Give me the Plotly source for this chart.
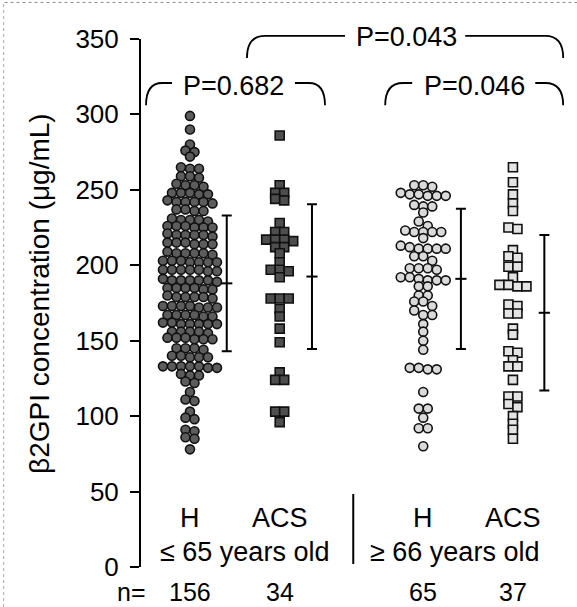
import numpy as np
import plotly.graph_objects as go

# ---------------- data ----------------
groups = ["H", "ACS", "H", "ACS"]
age_labels = ["\u2264 65 years old", "\u2265 66 years old"]
n_labels = ["156", "34", "65", "37"]
p_labels = ["P=0.682", "P=0.046", "P=0.043"]

h_young = [299, 290, 280, 276, 275, 272, 265, 264, 264, 259, 258, 259,
           254, 253, 253, 252, 248, 247, 248, 247, 248,
           242, 242, 243, 241, 242, 242, 237, 236, 237, 236,
           230, 230, 229, 230, 231, 226, 225, 226, 225, 226, 225,
           220, 220, 221, 220, 219, 220, 215, 214, 215, 214, 215, 214,
           208, 208, 207, 208, 209, 208, 203, 202, 202, 203, 202, 202, 203,
           197, 197, 196, 197, 197, 196, 197,
           190, 190, 191, 190, 189, 190, 190, 185, 185, 184, 185, 185, 184,
           179, 179, 180, 179, 179, 178, 173, 172, 173, 172, 173, 172, 173,
           167, 167, 166, 167, 167, 166, 161, 162, 161, 161, 162, 161, 161,
           156, 156, 155, 156, 156, 152, 151, 152, 151, 152, 151,
           145, 145, 144, 145, 139, 140, 139, 139, 140,
           133, 133, 132, 133, 133, 132, 133, 127, 128, 127, 123, 122,
           116, 111, 110, 103, 99, 98, 91, 90, 86, 85, 78]
acs_young = [286, 253, 248, 248, 244, 243, 228, 222, 222, 217, 217, 216, 217,
             212, 212, 208, 202, 197, 197, 196, 192, 178, 178, 178, 171, 166,
             158, 149, 129, 124, 124, 103, 103, 96]
h_old = [253, 252, 253, 247, 246, 247, 246, 248, 246, 239, 240, 239, 235, 229,
         226, 222, 222, 223, 222, 222, 218, 213, 211, 211, 212, 211, 211,
         206, 206, 203, 198, 198, 198, 197, 192, 192, 190, 190, 190, 191,
         186, 186, 180, 180, 176, 176, 173, 170, 167, 167, 161, 156, 150, 144,
         132, 131, 132, 131, 116, 105, 105, 99, 92, 92, 80]
acs_old = [265, 255, 247, 241, 236, 225, 224, 210, 206, 205, 199, 199, 192,
           187, 187, 186, 186, 174, 173, 168, 168, 158, 154, 143, 142, 137,
           133, 133, 124, 113, 113, 108, 106, 100, 95, 91, 85]

means = [188, 192.5, 191, 168.5]
sds = [45, 48, 46.5, 51.5]

# ---------------- layout constants ----------------
W, H = 577, 607
ML = 140
X_POS = [1.0, 2.0, 3.6, 4.6]
XR = [0.443, 5.314]
YR = [-26.5, 375.8]
XPX = (W - ML) / (XR[1] - XR[0])
YPX = H / (YR[1] - YR[0])
ERR_OFF = [0.41, 0.36, 0.42, 0.35]
FONT = "Liberation Sans, Arial, sans-serif"


def row_offsets(vals, spacing_px=9.0, tol=3.5):
    """GraphPad-like scatter: values that are close share a centred row."""
    vals = np.asarray(vals, float)
    order = np.argsort(-vals, kind="stable")
    offs = np.zeros(len(vals))
    rows, cur, start = [], [], None
    for i in order:
        if cur and start - vals[i] > tol:
            rows.append(cur)
            cur = []
        if not cur:
            start = vals[i]
        cur.append(i)
    if cur:
        rows.append(cur)
    for r in rows:
        n = len(r)
        for j, i in enumerate(r):
            offs[i] = (j - (n - 1) / 2.0) * spacing_px
    return offs / XPX


series = [h_young, acs_young, h_old, acs_old]
symbols = ["circle", "square", "circle", "square"]
fills = ["#5c5c5c", "#4e4e4e", "#dadada", "#e4e4e4"]

fig = go.Figure()
for k, vals in enumerate(series):
    xs = X_POS[k] + row_offsets(vals)
    fig.add_trace(go.Scatter(
        x=xs, y=vals, mode="markers",
        marker=dict(symbol=symbols[k], size=9, color=fills[k],
                    line=dict(color="#111111", width=1.6)),
        showlegend=False, hoverinfo="y"))
    fig.add_trace(go.Scatter(
        x=[X_POS[k] + ERR_OFF[k]], y=[means[k]], mode="markers",
        marker=dict(symbol="line-ew", size=8, line=dict(color="black", width=2)),
        error_y=dict(type="data", array=[sds[k]], visible=True, width=5,
                     thickness=2, color="black"),
        showlegend=False, hoverinfo="skip"))

shapes = []


def bracket(x0, x1, gl, gr, ytop, ybot, cw):
    p1 = f"M {x0},{ybot} Q {x0},{ytop} {x0+cw},{ytop} L {gl},{ytop}"
    p2 = f"M {gr},{ytop} L {x1-cw},{ytop} Q {x1},{ytop} {x1},{ybot}"
    for p in (p1, p2):
        shapes.append(dict(type="path", path=p, xref="x", yref="y",
                           line=dict(color="black", width=1.8)))


bracket(0.51, 2.505, 0.80, 2.17, 320.8, 306, 0.18)
bracket(3.176, 5.16, 3.477, 4.849, 320.8, 306, 0.2)
bracket(1.635, 5.16, 2.728, 4.068, 352, 337.4, 0.2)

# y axis line
shapes.append(dict(type="line", xref="paper", yref="y", x0=0, x1=0, y0=0, y1=350,
                   line=dict(color="black", width=2)))
# divider
shapes.append(dict(type="line", xref="x", yref="y", x0=2.82, x1=2.82, y0=2, y1=48.4,
                   line=dict(color="black", width=2)))
# scan border remnants
shapes.append(dict(type="line", xref="paper", yref="paper", x0=-0.31, x1=1.0,
                   y0=0.996, y1=0.996, line=dict(color="#888", width=1, dash="dot")))
shapes.append(dict(type="line", xref="paper", yref="paper", x0=-0.312, x1=-0.312,
                   y0=0.0, y1=0.996, line=dict(color="#aaa", width=1, dash="dot")))

ann = []
TF = dict(family=FONT, size=27, color="black")
NF = dict(family=FONT, size=25, color="black")
for k in range(4):
    ann.append(dict(x=X_POS[k], y=32.5, xref="x", yref="y", text=groups[k],
                    showarrow=False, font=TF))
    ann.append(dict(x=X_POS[k], y=YR[0], xref="x", yref="y", text=n_labels[k],
                    yanchor="bottom", borderpad=0, showarrow=False, font=NF))
ann.append(dict(x=1.61, y=9.9, xref="x", yref="y", text=age_labels[0],
                showarrow=False, font=TF))
ann.append(dict(x=3.95, y=9.9, xref="x", yref="y", text=age_labels[1],
                showarrow=False, font=TF))
ann.append(dict(x=(131 - ML) / (W - ML), y=YR[0], xref="paper", yref="y", text="n=",
                xanchor="center", yanchor="bottom", borderpad=0,
                showarrow=False, font=NF))
PF = dict(family=FONT, size=27, color="black")
ann.append(dict(x=1.49, y=318.8, xref="x", yref="y", text=p_labels[0], showarrow=False, font=PF))
ann.append(dict(x=4.17, y=318.8, xref="x", yref="y", text=p_labels[1], showarrow=False, font=PF))
ann.append(dict(x=3.41, y=351, xref="x", yref="y", text=p_labels[2], showarrow=False, font=PF))
ann.append(dict(x=(40 - ML) / (W - ML), y=181, xref="paper", yref="y",
                xanchor="center", yanchor="middle",
                text="\u03b22GPI concentration (\u03bcg/mL)", textangle=-90,
                showarrow=False, font=dict(family=FONT, size=28, color="black")))

fig.update_layout(
    width=W, height=H, margin=dict(l=ML, r=0, t=0, b=0),
    paper_bgcolor="white", plot_bgcolor="white",
    xaxis=dict(range=XR, visible=False, fixedrange=True),
    yaxis=dict(range=YR, tickvals=list(range(0, 351, 50)), ticks="outside",
               ticklen=9, tickwidth=2, tickcolor="black", showline=False,
               showgrid=False, zeroline=False, ticklabelstandoff=6,
               tickfont=dict(family=FONT, size=26, color="black")),
    shapes=shapes, annotations=ann,
)
fig.write_html("out.html")
